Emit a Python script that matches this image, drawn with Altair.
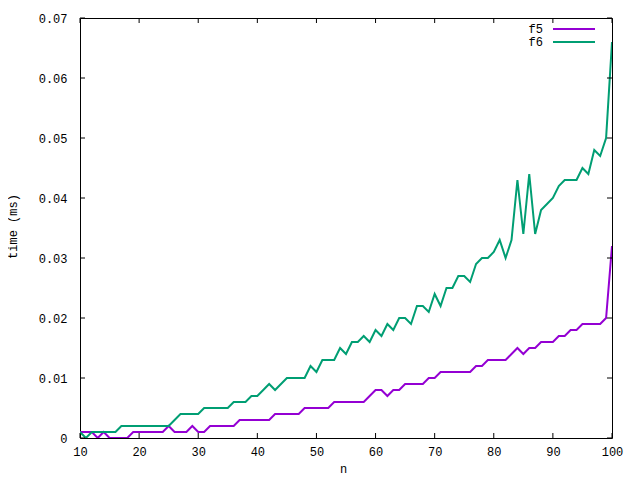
import altair as alt
import pandas as pd

n_values = list(range(10, 101))

f5_us = [1, 1, 1, 0, 1, 0, 0, 0, 0, 1,
         1, 1, 1, 1, 1, 2, 1, 1, 1, 2,
         1, 1, 2, 2, 2, 2, 2, 3, 3, 3,
         3, 3, 3, 4, 4, 4, 4, 4, 5, 5,
         5, 5, 5, 6, 6, 6, 6, 6, 6, 7,
         8, 8, 7, 8, 8, 9, 9, 9, 9, 10,
         10, 11, 11, 11, 11, 11, 11, 12, 12, 13,
         13, 13, 13, 14, 15, 14, 15, 15, 16, 16,
         16, 17, 17, 18, 18, 19, 19, 19, 19, 20,
         32]

f6_us = [1, 0, 1, 1, 1, 1, 1, 2, 2, 2,
         2, 2, 2, 2, 2, 2, 3, 4, 4, 4,
         4, 5, 5, 5, 5, 5, 6, 6, 6, 7,
         7, 8, 9, 8, 9, 10, 10, 10, 10, 12,
         11, 13, 13, 13, 15, 14, 16, 16, 17, 16,
         18, 17, 19, 18, 20, 20, 19, 22, 22, 21,
         24, 22, 25, 25, 27, 27, 26, 29, 30, 30,
         31, 33, 30, 33, 43, 34, 44, 34, 38, 39,
         40, 42, 43, 43, 43, 45, 44, 48, 47, 50,
         66]

series_names = ["f5", "f6"]
series_colors = ["#9400D3", "#009E73"]
x_ticks = [10, 20, 30, 40, 50, 60, 70, 80, 90, 100]
y_ticks = [0, 0.01, 0.02, 0.03, 0.04, 0.05, 0.06, 0.07]

rows = []
for n, v in zip(n_values, f5_us):
    rows.append({"n": n, "time": v / 1000.0, "series": "f5"})
for n, v in zip(n_values, f6_us):
    rows.append({"n": n, "time": v / 1000.0, "series": "f6"})
df = pd.DataFrame(rows)

FONT = "Liberation Mono"
W, H = 532, 420

xscale = alt.Scale(domain=[10, 100], nice=False, zero=False)
yscale = alt.Scale(domain=[0, 0.07], nice=False)

xaxis = alt.Axis(values=x_ticks, ticks=False, domain=False, grid=False, labelFlush=False,
                 labelPadding=8, labelFont=FONT, labelFontSize=12, labelColor="black",
                 title="n", titleFont=FONT, titleFontSize=12, titleFontWeight="normal",
                 titleColor="black", titleX=W / 2 - 3, titleY=30, titleBaseline="middle")
yaxis = alt.Axis(values=y_ticks, ticks=False, domain=False, grid=False, labelFlush=False,
                 labelPadding=13, labelFont=FONT, labelFontSize=12, labelColor="black",
                 labelExpr="datum.value == 0 ? '0' : format(datum.value, '.2f')",
                 title="time (ms)", titleFont=FONT, titleFontSize=12, titleFontWeight="normal",
                 titleColor="black", titleAngle=-90, titleX=-68, titleY=H / 2 - 2,
                 titleAlign="center", titleBaseline="middle")

base = alt.Chart(df)

lines = base.mark_line(strokeWidth=2, clip=True).encode(
    x=alt.X("n:Q", scale=xscale, axis=xaxis),
    y=alt.Y("time:Q", scale=yscale, axis=yaxis),
    color=alt.Color("series:N", scale=alt.Scale(domain=series_names, range=series_colors), legend=None),
    order=alt.Order("n:Q"),
)

xt = pd.DataFrame({"v": x_ticks})
yt = pd.DataFrame({"v": y_ticks})
TL = 5
bottom_ticks = alt.Chart(xt).mark_rule(color="black", strokeWidth=1).encode(
    x=alt.X("v:Q", scale=xscale), y=alt.value(H), y2=alt.value(H - TL))
top_ticks = alt.Chart(xt).mark_rule(color="black", strokeWidth=1).encode(
    x=alt.X("v:Q", scale=xscale), y=alt.value(0), y2=alt.value(TL))
left_ticks = alt.Chart(yt).mark_rule(color="black", strokeWidth=1).encode(
    y=alt.Y("v:Q", scale=yscale), x=alt.value(0), x2=alt.value(TL))
right_ticks = alt.Chart(yt).mark_rule(color="black", strokeWidth=1).encode(
    y=alt.Y("v:Q", scale=yscale), x=alt.value(W), x2=alt.value(W - TL))

leg = pd.DataFrame({"series": series_names, "ypos": [11, 24]})
leg_text = alt.Chart(leg).mark_text(align="right", baseline="middle", font=FONT, fontSize=12,
                                    color="black").encode(
    text="series:N", x=alt.value(463), y=alt.Y("ypos:Q", scale=None))
leg_line = alt.Chart(leg).mark_rule(strokeWidth=2).encode(
    x=alt.value(473), x2=alt.value(515), y=alt.Y("ypos:Q", scale=None),
    color=alt.Color("series:N", scale=alt.Scale(domain=series_names, range=series_colors), legend=None))

chart = alt.layer(lines, bottom_ticks, top_ticks, left_ticks, right_ticks, leg_text, leg_line).properties(
    width=W, height=H,
    autosize=alt.AutoSizeParams(type="none"),
    padding={"left": 72, "top": 10, "right": 20, "bottom": 40},
    background="white",
).configure_view(stroke="black", strokeWidth=1)

chart.save("out.html", embed_options={"renderer": "svg", "actions": False})
